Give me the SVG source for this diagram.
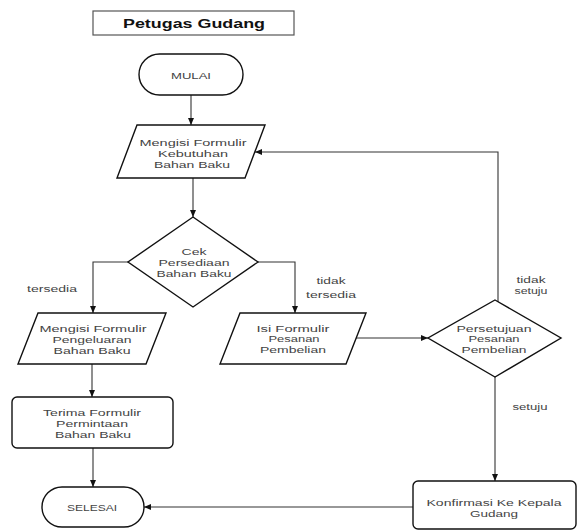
<svg xmlns="http://www.w3.org/2000/svg" width="580" height="532" viewBox="0 0 580 532">
  <defs>
    <marker id="arrow" markerWidth="7" markerHeight="6" refX="7" refY="3" orient="auto" markerUnits="userSpaceOnUse">
      <path d="M0,0 L7,3 L0,6 z" fill="#111"/>
    </marker>
    <style>
      .shape { fill: #fff; stroke: #111; stroke-width: 1.4; }
      .title-box { fill: #fff; stroke: #555; stroke-width: 1.2; }
      .edge { fill: none; stroke: #333; stroke-width: 1.1; marker-end: url(#arrow); }
      text { font-family: "Liberation Sans", Arial, sans-serif; font-size: 9.6px; fill: #444; text-anchor: middle; }
      .title { font-weight: bold; font-size: 12px; fill: #111; }
    </style>
  </defs>
  <rect width="580" height="532" fill="#fff"/>

  <g id="title">
    <rect class="title-box" x="93" y="11" width="201" height="24"/>
    <text class="title" x="194" y="28" textLength="142" lengthAdjust="spacingAndGlyphs">Petugas Gudang</text>
  </g>

  <g id="connectors">
    <line class="edge" x1="191" y1="95" x2="191" y2="125"/>
    <line class="edge" x1="193" y1="178" x2="193" y2="217"/>
    <polyline class="edge" points="128,262 93,262 93,313"/>
    <polyline class="edge" points="258,262 295,262 295,313"/>
    <line class="edge" x1="92" y1="364" x2="92" y2="397"/>
    <line class="edge" x1="93" y1="448" x2="93" y2="487"/>
    <line class="edge" x1="356" y1="338" x2="428" y2="338"/>
    <polyline class="edge" points="498,302 498,152 255,152"/>
    <line class="edge" x1="495" y1="377" x2="495" y2="481"/>
    <line class="edge" x1="413" y1="507" x2="144" y2="507"/>
  </g>

  <g id="labels">
    <text x="52" y="292" textLength="50" lengthAdjust="spacingAndGlyphs">tersedia</text>
    <text x="331" y="284" textLength="29" lengthAdjust="spacingAndGlyphs">tidak</text>
    <text x="331" y="298" textLength="50" lengthAdjust="spacingAndGlyphs">tersedia</text>
    <text x="531" y="283" textLength="29" lengthAdjust="spacingAndGlyphs">tidak</text>
    <text x="531" y="294" textLength="33" lengthAdjust="spacingAndGlyphs">setuju</text>
    <text x="530" y="410" textLength="35" lengthAdjust="spacingAndGlyphs">setuju</text>
  </g>

  <g id="mulai">
    <rect class="shape" x="139" y="54" width="104" height="41" rx="20.5"/>
    <text x="191" y="78.5" textLength="40" lengthAdjust="spacingAndGlyphs">MULAI</text>
  </g>

  <g id="formulir-kebutuhan">
    <polygon class="shape" points="137,125 265,125 245,178 117,178"/>
    <text x="193" y="146" textLength="107" lengthAdjust="spacingAndGlyphs">Mengisi Formulir</text>
    <text x="193" y="157" textLength="70" lengthAdjust="spacingAndGlyphs">Kebutuhan</text>
    <text x="192" y="168" textLength="76" lengthAdjust="spacingAndGlyphs">Bahan Baku</text>
  </g>

  <g id="cek-persediaan">
    <polygon class="shape" points="193,217 258,262 193,307 128,262"/>
    <text x="194" y="255" textLength="25" lengthAdjust="spacingAndGlyphs">Cek</text>
    <text x="194" y="266" textLength="71" lengthAdjust="spacingAndGlyphs">Persediaan</text>
    <text x="194" y="276.5" textLength="75" lengthAdjust="spacingAndGlyphs">Bahan Baku</text>
  </g>

  <g id="formulir-pengeluaran">
    <polygon class="shape" points="38,313 166,313 146,364 18,364"/>
    <text x="93" y="332" textLength="107" lengthAdjust="spacingAndGlyphs">Mengisi Formulir</text>
    <text x="92" y="343" textLength="79" lengthAdjust="spacingAndGlyphs">Pengeluaran</text>
    <text x="92" y="354" textLength="77" lengthAdjust="spacingAndGlyphs">Bahan Baku</text>
  </g>

  <g id="formulir-pesanan">
    <polygon class="shape" points="240,313 366,313 346,364 220,364"/>
    <text x="293" y="331.5" textLength="73" lengthAdjust="spacingAndGlyphs">Isi Formulir</text>
    <text x="294" y="342" textLength="51" lengthAdjust="spacingAndGlyphs">Pesanan</text>
    <text x="293" y="353" textLength="66" lengthAdjust="spacingAndGlyphs">Pembelian</text>
  </g>

  <g id="persetujuan">
    <polygon class="shape" points="495,300 561,338 495,377 428,338"/>
    <text x="494" y="331.5" textLength="75" lengthAdjust="spacingAndGlyphs">Persetujuan</text>
    <text x="494" y="342" textLength="51" lengthAdjust="spacingAndGlyphs">Pesanan</text>
    <text x="494" y="353" textLength="65" lengthAdjust="spacingAndGlyphs">Pembelian</text>
  </g>

  <g id="terima-formulir">
    <rect class="shape" x="12" y="397" width="161" height="51" rx="5"/>
    <text x="92" y="416" textLength="98" lengthAdjust="spacingAndGlyphs">Terima Formulir</text>
    <text x="92" y="427" textLength="72" lengthAdjust="spacingAndGlyphs">Permintaan</text>
    <text x="93" y="438" textLength="76" lengthAdjust="spacingAndGlyphs">Bahan Baku</text>
  </g>

  <g id="selesai">
    <rect class="shape" x="42" y="487" width="102" height="40" rx="20"/>
    <text x="92" y="510.5" textLength="50" lengthAdjust="spacingAndGlyphs">SELESAI</text>
  </g>

  <g id="konfirmasi">
    <rect class="shape" x="413" y="481" width="163" height="48" rx="5"/>
    <text x="494" y="506" textLength="135" lengthAdjust="spacingAndGlyphs">Konfirmasi Ke Kepala</text>
    <text x="494" y="517" textLength="48" lengthAdjust="spacingAndGlyphs">Gudang</text>
  </g>
</svg>
